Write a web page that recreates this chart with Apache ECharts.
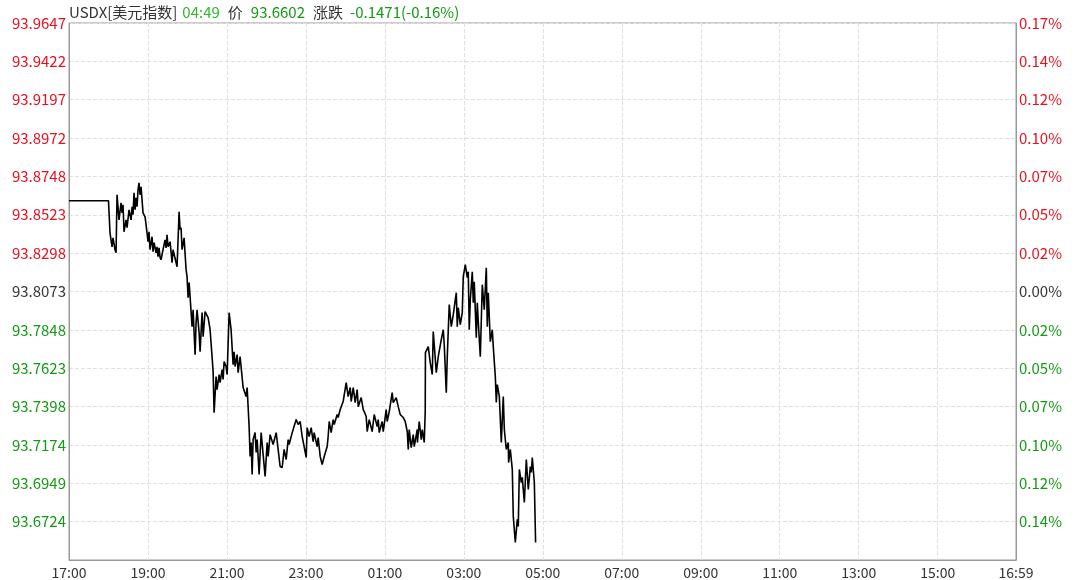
<!DOCTYPE html>
<html>
<head>
<meta charset="utf-8">
<script src="https://cdn.jsdelivr.net/npm/echarts@6/dist/echarts.min.js"></script>
<style>
  html, body { margin: 0; padding: 0; background: #fff; }
  #chart { width: 1080px; height: 580px; }
</style>
</head>
<body>
<div id="chart"></div>
<script>
// previous close and the price step between two grid lines
const prevClose = 93.8073
const step = 0.022486

// x axis labels, one every 2 hours from 17:00, last one is 16:59
const timeLabels = ['17:00', '19:00', '21:00', '23:00', '01:00', '03:00', '05:00',
  '07:00', '09:00', '11:00', '13:00', '15:00', '16:59']

// y axis labels, top to bottom (last grid line has no label)
const priceTicks = ['93.9647', '93.9422', '93.9197', '93.8972', '93.8748', '93.8523', '93.8298',
  '93.8073', '93.7848', '93.7623', '93.7398', '93.7174', '93.6949', '93.6724', '']
const pctTicks = ['0.17%', '0.14%', '0.12%', '0.10%', '0.07%', '0.05%', '0.02%',
  '0.00%', '0.02%', '0.05%', '0.07%', '0.10%', '0.12%', '0.14%', '']

// minutes after 17:00
const minutes = [
  0, 60, 62.3, 65.4, 66.9, 69.9, 71.5, 73.0, 76.0, 79.1, 80.6, 82.1, 83.6, 86.7, 88.2, 91.2,
  94.3, 95.8, 97.3, 98.8, 100.4, 101.9, 103.4, 104.9, 106.4, 108.0, 109.5, 112.5, 115.6, 118.6,
  120.1, 121.6, 123.2, 126.2, 127.7, 129.3, 132.3, 133.8, 135.3, 136.9, 138.4, 139.9, 142.9,
  146.0, 147.5, 149.0, 150.5, 153.6, 156.6, 158.1, 164.2, 167.3, 168.8, 170.3, 171.8, 174.9,
  177.9, 179.4, 181.0, 182.5, 184.0, 185.5, 187.0, 188.6, 190.1, 191.6, 193.1, 194.6, 197.7,
  199.2, 202.2, 203.8, 206.8, 211.4, 214.4, 217.4, 219.0, 220.5, 223.5, 225.0, 228.1, 229.6,
  232.7, 234.2, 235.7, 238.7, 240.3, 243.3, 246.3, 249.4, 250.9, 252.4, 255.5, 257.0, 260.0,
  264.6, 269.1, 270.7, 273.7, 275.2, 276.7, 278.3, 279.8, 282.8, 284.4, 285.9, 288.9, 292.0,
  295.0, 298.0, 301.1, 302.6, 305.6, 310.2, 314.8, 317.8, 320.8, 323.9, 326.9, 330.0, 333.0,
  334.5, 337.6, 340.6, 345.2, 348.2, 351.3, 354.3, 357.3, 360.4, 361.9, 364.9, 368.0, 371.0,
  372.5, 377.1, 378.6, 381.7, 384.7, 387.8, 392.3, 393.8, 395.4, 398.4, 401.4, 403.0, 407.5,
  409.0, 412.1, 416.6, 418.2, 421.2, 424.2, 427.3, 428.8, 431.9, 434.9, 437.9, 439.5, 444.0,
  447.1, 448.6, 451.6, 453.1, 456.2, 460.7, 463.8, 468.3, 469.9, 471.4, 475.9, 477.5, 482.0,
  483.5, 486.6, 491.1, 492.7, 497.2, 500.3, 503.3, 507.9, 510.9, 514.0, 515.5, 517.0, 520.0,
  523.1, 524.6, 529.2, 529.5, 532.2, 535.3, 536.8, 539.8, 541.3, 541.6, 545.9, 548.9, 552.0,
  553.5, 555.0, 558.1, 561.1, 565.7, 568.7, 570.2, 573.3, 574.8, 577.8, 580.9, 583.9, 588.5,
  590.0, 591.5, 594.6, 597.6, 599.1, 602.2, 605.2, 606.7, 608.2, 609.8, 612.8, 614.3, 615.8,
  618.9, 620.4, 621.9, 625.0, 628.0, 631.0, 634.1, 635.6, 637.1, 640.2, 643.2, 644.7, 647.8,
  649.3, 650.8, 653.9, 656.9, 659.9, 661.5, 664.5, 667.5, 668.0, 670.6, 673.6, 675.1, 678.2,
  681.2, 682.7, 684.3, 687.3, 688.8, 691.9, 694.9, 697.9, 701.0, 702.5, 704.0, 707.1, 709
]
const prices = [
  93.8605, 93.8605, 93.8417, 93.8335, 93.8388, 93.8318, 93.8300, 93.8640, 93.8493, 93.8593, 93.8534,
  93.8581, 93.8423, 93.8493, 93.8447, 93.8552, 93.8493, 93.8570, 93.8523, 93.8652, 93.8552, 93.8622,
  93.8570, 93.8669, 93.8710, 93.8640, 93.8687, 93.8534, 93.8511, 93.8417, 93.8365, 93.8423, 93.8318,
  93.8394, 93.8306, 93.8359, 93.8300, 93.8335, 93.8277, 93.8329, 93.8271, 93.8259, 93.8318, 93.8376,
  93.8329, 93.8406, 93.8335, 93.8365, 93.8242, 93.8318, 93.8218, 93.8540, 93.8435, 93.8447, 93.8318,
  93.8388, 93.8201, 93.8160, 93.8037, 93.8125, 93.8043, 93.7955, 93.7867, 93.7966, 93.7832, 93.7703,
  93.7890, 93.7966, 93.7832, 93.7720, 93.7949, 93.7808, 93.7955, 93.7920, 93.7849, 93.7691, 93.7603,
  93.7363, 93.7574, 93.7498, 93.7586, 93.7539, 93.7615, 93.7557, 93.7662, 93.7633, 93.7586, 93.7949,
  93.7849, 93.7644, 93.7720, 93.7633, 93.7703, 93.7597, 93.7691, 93.7510, 93.7457, 93.7510, 93.7281,
  93.7106, 93.7188, 93.7000, 93.7205, 93.7246, 93.7129, 93.7205, 93.7000, 93.7246, 93.7117, 93.6989,
  93.7188, 93.7106, 93.7234, 93.7176, 93.7246, 93.7147, 93.7047, 93.7041, 93.7147, 93.7088, 93.7205,
  93.7176, 93.7223, 93.7264, 93.7322, 93.7293, 93.7311, 93.7223, 93.7164, 93.7100, 93.7275, 93.7223,
  93.7275, 93.7193, 93.7246, 93.7164, 93.7217, 93.7106, 93.7059, 93.7106, 93.7164, 93.7223, 93.7311,
  93.7246, 93.7322, 93.7293, 93.7352, 93.7334, 93.7381, 93.7428, 93.7422, 93.7539, 93.7457, 93.7510,
  93.7428, 93.7510, 93.7422, 93.7498, 93.7398, 93.7451, 93.7381, 93.7369, 93.7340, 93.7252, 93.7322,
  93.7252, 93.7352, 93.7281, 93.7322, 93.7246, 93.7311, 93.7252, 93.7381, 93.7311, 93.7369, 93.7480,
  93.7422, 93.7451, 93.7398, 93.7352, 93.7334, 93.7311, 93.7252, 93.7147, 93.7264, 93.7158, 93.7234,
  93.7164, 93.7264, 93.7188, 93.7311, 93.7205, 93.7264, 93.7188, 93.7369, 93.7715, 93.7750, 93.7656,
  93.7586, 93.7838, 93.7761, 93.7597, 93.7691, 93.7791, 93.7849, 93.7761, 93.7480, 93.7691, 93.7996,
  93.7867, 93.7937, 93.8066, 93.7867, 93.7978, 93.7879, 93.7949, 93.8160, 93.8230, 93.8154, 93.8189,
  93.7849, 93.8025, 93.8189, 93.8007, 93.8130, 93.7802, 93.8007, 93.7896, 93.7691, 93.8113, 93.7966,
  93.8212, 93.7867, 93.8066, 93.7779, 93.7849, 93.7750, 93.7574, 93.7422, 93.7527, 93.7457, 93.7188,
  93.7457, 93.7264, 93.7147, 93.7188, 93.7070, 93.7147, 93.7030, 93.6754, 93.6602, 93.6737, 93.6696,
  93.7030, 93.6953, 93.6983, 93.6836, 93.7088, 93.6912, 93.7047, 93.7012, 93.7100, 93.6953, 93.6602
]

const RED = '#e8101e'
const GREEN = '#139a13'
const LIGHT_GREEN = '#2db82d'
const FONT = '"Noto Sans CJK SC", "Noto Sans", sans-serif'

// y is drawn in grid steps away from the previous close
const lineData = minutes.map((m, i) => [m, (prices[i] - prevClose) / step])

const lastPrice = prices[prices.length - 1]
const lastMin = minutes[minutes.length - 1]
const diff = lastPrice - prevClose
const hh = (17 + Math.floor(lastMin / 60)) % 24
const lastTime = String(hh).padStart(2, '0') + ':' + String(lastMin % 60).padStart(2, '0')
const header = '{u|USDX[美元指数]}{g|' + lastTime + '}{p|价}{d|' + lastPrice.toFixed(4) + '}{z|涨跌}{e|' +
  diff.toFixed(4) + '(' + (diff / prevClose * 100).toFixed(2) + '%)}'

function tickColor(v) {
  if (v > 0.01) return RED
  if (v < -0.01) return GREEN
  return '#333'
}

function rich(color, right) {
  return { color: color, fontSize: 15, fontFamily: FONT, padding: [0, right, 0, 0] }
}

const chart = echarts.init(document.getElementById('chart'))
chart.setOption({
  animation: false,
  title: {
    text: header,
    left: 64,
    top: 0,
    textStyle: {
      fontFamily: FONT,
      fontSize: 15,
      fontWeight: 'normal',
      rich: {
        u: rich('#333', 5),
        g: rich(LIGHT_GREEN, 8),
        p: rich('#333', 8),
        d: rich(GREEN, 8),
        z: rich('#333', 7),
        e: rich(GREEN, 0),
      },
    },
  },
  grid: {
    left: 69,
    right: 64,
    top: 23,
    bottom: 20,
    show: true,
    borderColor: '#999',
    borderWidth: 1,
  },
  xAxis: {
    type: 'value',
    min: 0,
    max: 1439,
    interval: 120,
    axisLine: { show: true, onZero: false, lineStyle: { color: '#999' } },
    axisTick: { show: false },
    splitLine: { show: true, lineStyle: { color: '#e0e0e0', type: 'dashed' } },
    axisLabel: {
      showMinLabel: true,
      showMaxLabel: true,
      color: '#333',
      fontSize: 14,
      fontFamily: FONT,
      margin: 6,
      formatter: v => timeLabels[Math.round(v / 120)],
    },
  },
  yAxis: [
    {
      type: 'value',
      min: -7,
      max: 7,
      interval: 1,
      position: 'left',
      axisLine: { show: true, lineStyle: { color: '#999' } },
      axisTick: { show: false },
      splitLine: { show: true, lineStyle: { color: '#e0e0e0', type: 'dashed' } },
      axisLabel: {
        fontSize: 15,
        fontFamily: FONT,
        margin: 3,
        formatter: v => priceTicks[7 - Math.round(v)],
        color: v => tickColor(v),
      },
    },
    {
      type: 'value',
      min: -7,
      max: 7,
      interval: 1,
      position: 'right',
      axisLine: { show: true, lineStyle: { color: '#999' } },
      axisTick: { show: false },
      splitLine: { show: false },
      axisLabel: {
        fontSize: 15,
        fontFamily: FONT,
        margin: 3,
        formatter: v => pctTicks[7 - Math.round(v)],
        color: v => tickColor(v),
      },
    },
  ],
  series: [
    {
      type: 'line',
      data: lineData,
      showSymbol: false,
      symbol: 'none',
      yAxisIndex: 0,
      lineStyle: { color: '#000', width: 1.6 },
    },
  ],
})
</script>
</body>
</html>
